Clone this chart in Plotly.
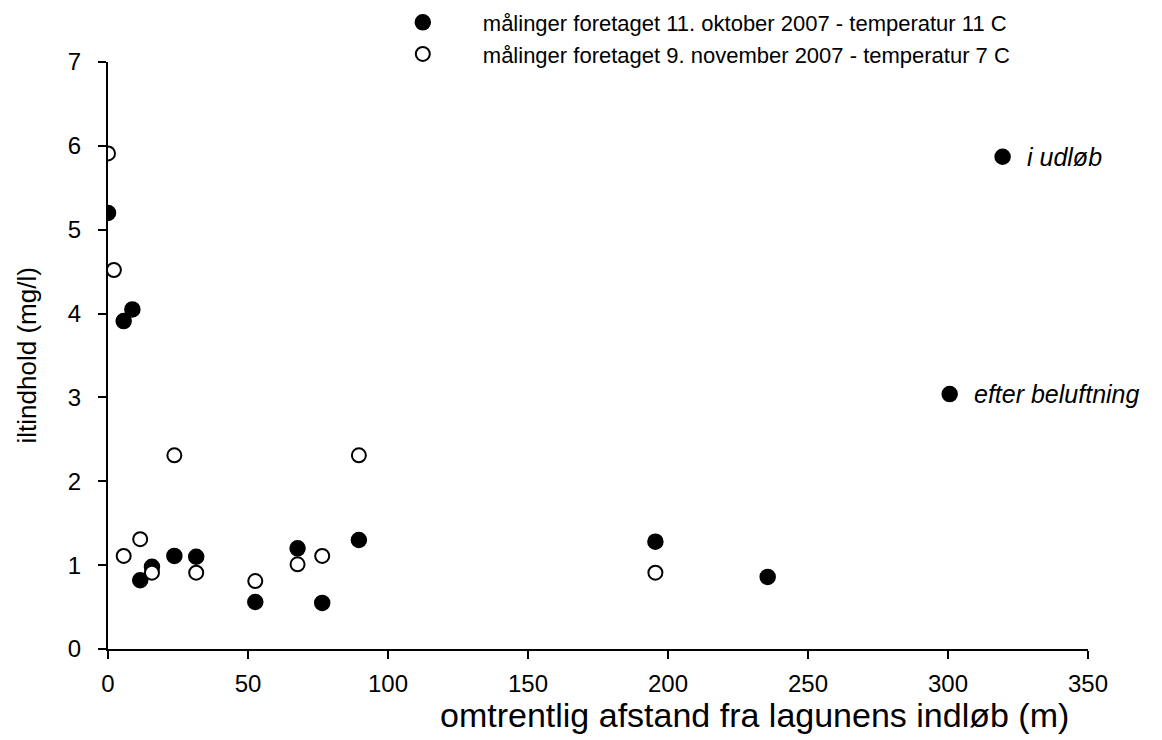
import plotly.graph_objects as go

# målinger 11. oktober 2007 (fyldte cirkler)
okt_x = [0, 5.6, 8.7, 11.5, 15.7, 23.7, 31.5, 52.6, 67.7, 76.5, 89.6, 195.5, 235.6]
okt_y = [5.2, 3.91, 4.05, 0.82, 0.98, 1.11, 1.10, 0.56, 1.20, 0.55, 1.30, 1.28, 0.86]

# målinger 9. november 2007 (åbne cirkler)
nov_x = [0, 2.1, 5.6, 11.5, 15.7, 23.7, 31.5, 52.6, 67.7, 76.5, 89.6, 195.5]
nov_y = [5.91, 4.52, 1.11, 1.31, 0.91, 2.31, 0.91, 0.81, 1.01, 1.11, 2.31, 0.91]

# særlige målepunkter
ekstra_x = [319.5, 300.6]
ekstra_y = [5.87, 3.04]
ekstra_tekst = ["i udløb", "efter beluftning"]

xticks = [0, 50, 100, 150, 200, 250, 300, 350]
yticks = [0, 1, 2, 3, 4, 5, 6, 7]

font = "Liberation Sans, Arial, sans-serif"

fig = go.Figure()
fig.add_trace(go.Scatter(
    x=okt_x, y=okt_y, mode="markers",
    name="målinger foretaget 11. oktober 2007 - temperatur 11 C",
    marker=dict(symbol="circle", size=15, color="black", line=dict(color="black", width=1.5)),
))
fig.add_trace(go.Scatter(
    x=nov_x, y=nov_y, mode="markers",
    name="målinger foretaget 9. november 2007 - temperatur 7 C",
    marker=dict(symbol="circle", size=14, color="white", line=dict(color="black", width=2)),
))
fig.add_trace(go.Scatter(
    x=ekstra_x, y=ekstra_y, mode="markers", showlegend=False,
    marker=dict(symbol="circle", size=15, color="black", line=dict(color="black", width=1.5)),
))

for xv, yv, t in zip(ekstra_x, ekstra_y, ekstra_tekst):
    fig.add_annotation(x=xv, y=yv, text=t, showarrow=False, xanchor="left", xshift=22,
                       font=dict(family=font, size=25, color="black", style="italic"))

fig.add_annotation(x=0.66, y=-0.113, xref="paper", yref="paper", showarrow=False,
                   xanchor="center", yanchor="middle",
                   text="omtrentlig afstand fra lagunens indløb (m)",
                   font=dict(family=font, size=34, color="black"))
fig.add_annotation(x=-0.0827, y=0.5, xref="paper", yref="paper", showarrow=False,
                   xanchor="center", yanchor="middle",
                   text="iltindhold (mg/l)", textangle=-90,
                   font=dict(family=font, size=26, color="black"))

fig.update_xaxes(range=[0, 350], tickvals=xticks, showline=True, linecolor="black", linewidth=2,
                 ticks="outside", ticklen=8, tickwidth=2, tickcolor="black", showgrid=False,
                 zeroline=False, ticklabelstandoff=4, automargin=False,
                 tickfont=dict(family=font, size=24, color="black"))
fig.update_yaxes(range=[0, 7], tickvals=yticks, showline=True, linecolor="black", linewidth=2,
                 ticks="outside", ticklen=8, tickwidth=2, tickcolor="black", showgrid=False,
                 zeroline=False, ticklabelstandoff=12, automargin=False,
                 tickfont=dict(family=font, size=24, color="black"))

fig.update_layout(
    width=1162, height=740,
    margin=dict(l=100, r=82, t=54, b=99, autoexpand=False),
    plot_bgcolor="white", paper_bgcolor="white",
    font=dict(family=font, color="black"),
    legend=dict(x=0.26, y=1.103, xanchor="left", yanchor="top", itemwidth=110,
                font=dict(family=font, size=22, color="black"), bgcolor="rgba(0,0,0,0)",
                tracegroupgap=0),
)

fig.write_html("out.html")
